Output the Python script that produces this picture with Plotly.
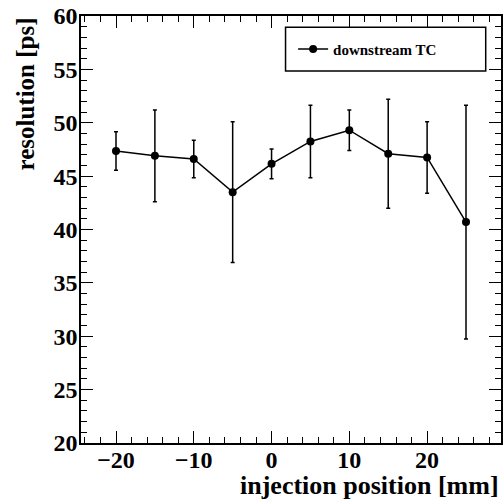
import plotly.graph_objects as go

# injection position scan, downstream TC
positions = [-20, -15, -10, -5, 0, 5, 10, 15, 20, 25]
resolution = [47.35, 46.9, 46.6, 43.5, 46.15, 48.25, 49.3, 47.1, 46.75, 40.7]
res_err = [1.8, 4.3, 1.75, 6.6, 1.4, 3.4, 1.9, 5.1, 3.35, 10.95]

series_name = "downstream TC"
x_title = "injection position [mm]"
y_title = "resolution [ps]"

FONT = "Liberation Serif"

fig = go.Figure()
fig.add_trace(go.Scatter(
    x=positions, y=resolution, name=series_name,
    mode="lines+markers",
    line=dict(color="black", width=1.5),
    marker=dict(color="black", size=8, symbol="circle"),
    error_y=dict(type="data", array=res_err, visible=True,
                 color="black", thickness=1.5, width=2),
))

axis_common = dict(
    showgrid=False, zeroline=False, automargin=False,
    showline=True, linecolor="black", linewidth=1.5,
    mirror="allticks", ticks="inside", tickcolor="black",
    ticklen=12, tickwidth=1.2,
    tickfont=dict(family=FONT, size=24, color="black", weight="bold"),
)

fig.update_xaxes(range=[-24.5, 29.5], tick0=0, dtick=10, ticklabelstandoff=-6,
                 minor=dict(dtick=2, ticks="inside", ticklen=6, tickcolor="black", tickwidth=1.2),
                 **axis_common)
fig.update_yaxes(range=[20, 60], tick0=0, dtick=5, ticklabelstandoff=-3,
                 minor=dict(dtick=1, ticks="inside", ticklen=6, tickcolor="black", tickwidth=1.2),
                 **axis_common)

# legend box (ROOT TLegend style)
fig.add_shape(type="rect", xref="paper", yref="paper",
              x0=0.487, x1=0.9636, y0=0.8712, y1=0.9736,
              line=dict(color="black", width=1.5), fillcolor="white", layer="above")

fig.update_layout(
    width=503, height=500,
    margin=dict(l=81, r=2, t=16, b=57),
    paper_bgcolor="white", plot_bgcolor="white",
    showlegend=True,
    legend=dict(x=0.505, y=0.922, xanchor="left", yanchor="middle",
                bgcolor="rgba(0,0,0,0)", borderwidth=0,
                font=dict(family=FONT, size=15, color="black", weight="bold"),
                itemwidth=30),
    annotations=[
        dict(text=x_title, xref="paper", yref="paper", x=1.0, y=-0.1,
             xanchor="right", yanchor="middle", showarrow=False,
             font=dict(family=FONT, size=26, color="black", weight="bold")),
        dict(text=y_title, xref="paper", yref="paper", x=-0.1333, y=1.0,
             xanchor="center", yanchor="top", textangle=-90, showarrow=False,
             font=dict(family=FONT, size=25, color="black", weight="bold")),
    ],
)

# drop the default body margin so the figure sits at the window corner
fig.write_html("out.html", config={"displayModeBar": False},
               post_script="document.body.style.margin='0';")
